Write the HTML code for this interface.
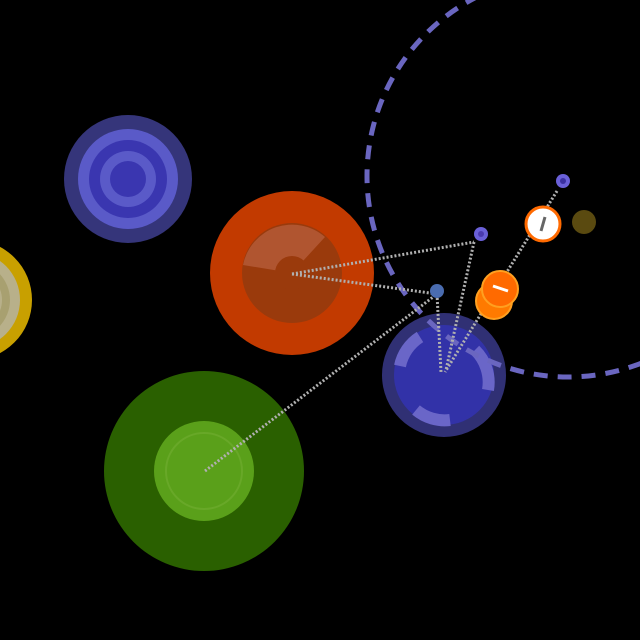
<!DOCTYPE html>
<html><head><meta charset="utf-8"><style>html,body{margin:0;padding:0;background:#000}svg{display:block}</style></head>
<body>
<svg width="640" height="640" viewBox="0 0 640 640" xmlns="http://www.w3.org/2000/svg">
<rect width="640" height="640" fill="#000"/>
<!-- yellow partial -->
<circle cx="-28" cy="300" r="60" fill="#c8a000"/>
<circle cx="-28" cy="300" r="48" fill="#b8b08a"/>
<circle cx="-28" cy="300" r="38" fill="#a8a070"/>
<circle cx="-28" cy="300" r="30" fill="#b8b08a"/>
<!-- blue concentric -->
<circle cx="128" cy="179" r="64" fill="#35357a"/>
<circle cx="128" cy="179" r="50" fill="#5a5ac8"/>
<circle cx="128" cy="179" r="39" fill="#3a36b0"/>
<circle cx="128" cy="179" r="28" fill="#5a5ac8"/>
<circle cx="128" cy="179" r="18" fill="#3a36b0"/>
<!-- orange -->
<circle cx="292" cy="273" r="82" fill="#c23a00"/>
<circle cx="292" cy="273" r="50" fill="#9a3a0c"/>
<path d="M292 273 L243 265 A50 50 0 0 1 325 237 Z" fill="#b05530"/>
<circle cx="292" cy="273" r="17" fill="#9a3a0c"/>
<!-- green -->
<circle cx="204" cy="471" r="100" fill="#2a6000"/>
<circle cx="204" cy="471" r="50" fill="#5aa01a"/>
<circle cx="204" cy="471" r="38" fill="none" stroke="#68a828" stroke-width="2"/>
<!-- blue big node -->
<circle cx="444" cy="375" r="62" fill="#33337a" fill-opacity="0.95"/>
<circle cx="444" cy="375" r="50" fill="#3232a8"/>
<g fill="none" stroke="#6a66c8" stroke-width="12">
<path d="M400 366 A45 45 0 0 1 420 337"/>
<path d="M475 350 A45 45 0 0 1 488 390"/>
<path d="M416 410 A45 45 0 0 0 450 420"/>
</g>
<!-- dashed big circle -->
<circle cx="568" cy="176" r="201" fill="none" stroke="#6a66c0" stroke-width="5" stroke-dasharray="14 10"/>
<!-- connectors -->
<g stroke="#b0b0b0" stroke-width="3" stroke-dasharray="2 2" fill="none">
<line x1="292" y1="274" x2="474" y2="242"/>
<line x1="292" y1="274" x2="437" y2="294"/>
<line x1="474" y1="242" x2="446" y2="370"/>
<line x1="437" y1="294" x2="441" y2="372"/>
<line x1="205" y1="471" x2="437" y2="294"/>
<line x1="557" y1="191" x2="445" y2="372"/>
</g>
<!-- small nodes -->
<circle cx="481" cy="234" r="7" fill="#6a60d8"/>
<circle cx="481" cy="234" r="3" fill="#4a3ab0"/>
<circle cx="563" cy="181" r="7" fill="#6a60d8"/>
<circle cx="563" cy="181" r="3" fill="#3a30a0"/>
<circle cx="437" cy="291" r="7" fill="#4a6cb0"/>
<circle cx="584" cy="222" r="12" fill="#5a4a10"/>
<circle cx="543" cy="224" r="17" fill="#fff" stroke="#ff6a00" stroke-width="3"/>
<line x1="545" y1="217" x2="541" y2="231" stroke="#666" stroke-width="3"/>
<circle cx="494" cy="301" r="18" fill="#ff7a00" stroke="#ffa020" stroke-width="2"/>
<circle cx="500" cy="289" r="18" fill="#ff6a00" stroke="#ffa020" stroke-width="2"/>
<line x1="493" y1="286" x2="508" y2="291" stroke="#fff" stroke-width="3"/>
</svg>
</body></html>
